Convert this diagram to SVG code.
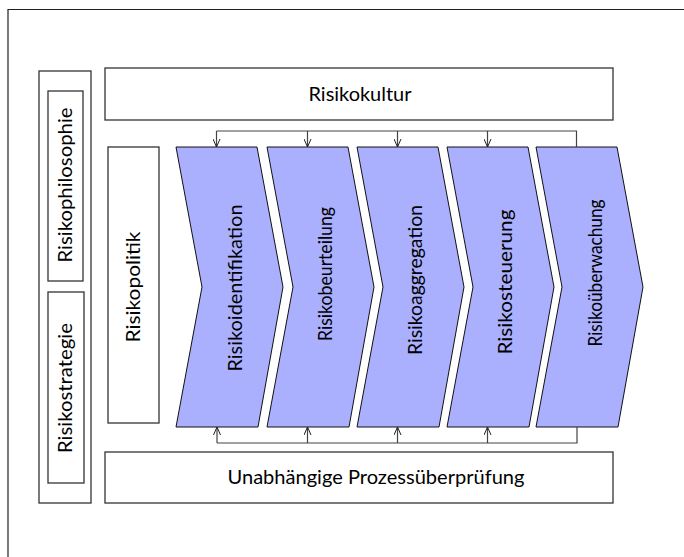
<svg xmlns="http://www.w3.org/2000/svg" width="684" height="557" viewBox="0 0 684 557">
<defs>
<style>
.box{fill:#fff;stroke:#333;stroke-width:1.3}
.chev{fill:#aab0fe;stroke:#111;stroke-width:1}
.t{font-family:Lato,"Liberation Sans",Arial,sans-serif;font-size:19px;fill:#000}
.con{fill:none;stroke:#444;stroke-width:1.2}
</style>
<marker id="ah" viewBox="0 0 8 8" refX="8" refY="4" markerWidth="8" markerHeight="8" markerUnits="userSpaceOnUse" orient="auto">
<path d="M0,0.5 L8,4 L0,7.5" fill="none" stroke="#222" stroke-width="1"/>
</marker>
</defs>
<rect width="684" height="557" fill="#fff"/>
<path d="M8,557 V9.5 H684" fill="none" stroke="#222" stroke-width="1.2"/>

<g id="outer-left">
<rect class="box" x="39" y="71" width="52" height="432"/>
</g>
<g id="risikophilosophie">
<rect class="box" x="48" y="91" width="35" height="190"/>
<text class="t" transform="translate(72,185) rotate(-90)" text-anchor="middle" textLength="155" lengthAdjust="spacingAndGlyphs">Risikophilosophie</text>
</g>
<g id="risikostrategie">
<rect class="box" x="48" y="292" width="36" height="191"/>
<text class="t" transform="translate(72,388) rotate(-90)" text-anchor="middle" textLength="130" lengthAdjust="spacingAndGlyphs">Risikostrategie</text>
</g>
<g id="risikokultur">
<rect class="box" x="105" y="68" width="508" height="52"/>
<text class="t" x="360" y="101" text-anchor="middle" textLength="103" lengthAdjust="spacingAndGlyphs">Risikokultur</text>
</g>
<g id="risikopolitik">
<rect class="box" x="108" y="147" width="51" height="276"/>
<text class="t" transform="translate(140,287) rotate(-90)" text-anchor="middle" textLength="111" lengthAdjust="spacingAndGlyphs">Risikopolitik</text>
</g>
<g id="pruefung">
<rect class="box" x="105" y="452" width="508" height="51"/>
<text class="t" x="376" y="484" text-anchor="middle" textLength="297" lengthAdjust="spacingAndGlyphs">Unabhängige Prozessüberprüfung</text>
</g>

<g id="chevron1">
<path class="chev" d="M176,147 H257 L283,287 L258,427 H176 L202,287 Z"/>
<text class="t" transform="translate(242,288) rotate(-90)" text-anchor="middle" textLength="167" lengthAdjust="spacingAndGlyphs">Risikoidentifikation</text>
</g>
<g id="chevron2">
<path class="chev" d="M267,147 H348 L374,287 L349,427 H267 L293,287 Z"/>
<text class="t" transform="translate(332,274) rotate(-90)" text-anchor="middle" textLength="134" lengthAdjust="spacingAndGlyphs">Risikobeurteilung</text>
</g>
<g id="chevron3">
<path class="chev" d="M357,147 H438 L464,287 L439,427 H357 L383,287 Z"/>
<text class="t" transform="translate(422,280) rotate(-90)" text-anchor="middle" textLength="150" lengthAdjust="spacingAndGlyphs">Risikoaggregation</text>
</g>
<g id="chevron4">
<path class="chev" d="M447,147 H528 L554,287 L529,427 H447 L473,287 Z"/>
<text class="t" transform="translate(512,282) rotate(-90)" text-anchor="middle" textLength="145" lengthAdjust="spacingAndGlyphs">Risikosteuerung</text>
</g>
<g id="chevron5">
<path class="chev" d="M536,147 H617 L643,287 L618,427 H536 L562,287 Z"/>
<text class="t" transform="translate(602,273) rotate(-90)" text-anchor="middle" textLength="147" lengthAdjust="spacingAndGlyphs">Risikoüberwachung</text>
</g>

<g id="connectors">
<path class="con" d="M216.5,131 H576.5 V147"/>
<path class="con" d="M216.5,131 V147" marker-end="url(#ah)"/>
<path class="con" d="M307.5,131 V147" marker-end="url(#ah)"/>
<path class="con" d="M397.5,131 V147" marker-end="url(#ah)"/>
<path class="con" d="M487.5,131 V147" marker-end="url(#ah)"/>
<path class="con" d="M217,443 H577 V427"/>
<path class="con" d="M217,443 V427" marker-end="url(#ah)"/>
<path class="con" d="M307.5,443 V427" marker-end="url(#ah)"/>
<path class="con" d="M397.5,443 V427" marker-end="url(#ah)"/>
<path class="con" d="M487.5,443 V427" marker-end="url(#ah)"/>
</g>
</svg>
